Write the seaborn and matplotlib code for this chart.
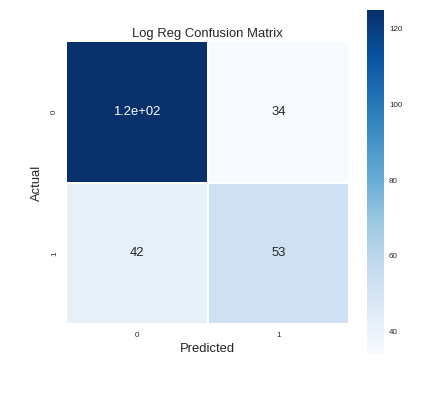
import matplotlib
matplotlib.use("Agg")
import matplotlib.pyplot as plt
import seaborn as sns
import numpy as np

actual_labels = ["0", "1"]
predicted_labels = ["0", "1"]
row_0 = [125, 34]
row_1 = [42, 53]

sns.set_style("whitegrid")
plt.rcParams['font.family'] = ['Liberation Sans', 'DejaVu Sans']

cm = np.array([row_0, row_1])

fig = plt.figure(figsize=(431/72, 394/72), dpi=72)
ax = fig.add_axes([65/431, (394-324)/394, 285/431, 283/394])
cax = fig.add_axes([367/431, (394-354)/394, 17/431, 344/394])

sns.heatmap(cm, annot=True, cmap="Blues", square=True, ax=ax, cbar_ax=cax,
            linewidths=0.15, linecolor="white",
            xticklabels=predicted_labels, yticklabels=actual_labels,
            annot_kws={"fontsize": 13})
ax.grid(False)
ax.set_title("Log Reg Confusion Matrix", fontsize=13, color="#262626", pad=4)
ax.set_xlabel("Predicted", fontsize=13, color="#262626", labelpad=4)
ax.set_ylabel("Actual", fontsize=13, color="#262626", labelpad=8)
ax.tick_params(axis="both", labelsize=8, colors="#262626", length=0, pad=8)
plt.setp(ax.get_yticklabels(), rotation=90, va="center")
cax.tick_params(labelsize=8, colors="#262626", length=0, pad=5)
cax.set_yticks([40, 60, 80, 100, 120])
for s in cax.spines.values():
    s.set_visible(False)

fig.savefig("out.png", dpi=72)
